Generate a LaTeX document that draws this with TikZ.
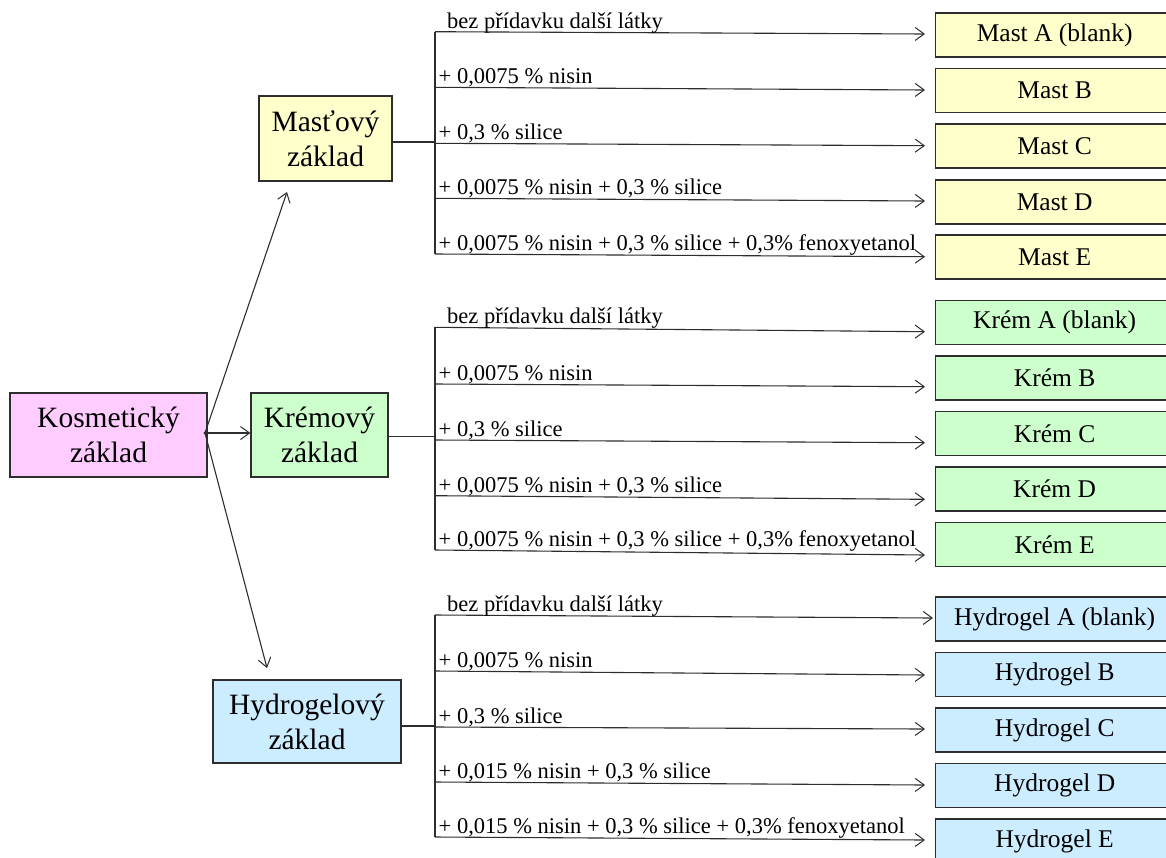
\documentclass[tikz,border=0pt]{standalone}
\usepackage{fontspec}
\setmainfont{Liberation Serif}
\usetikzlibrary{arrows.meta,calc}
\definecolor{yel}{RGB}{255,255,204}
\definecolor{grn}{RGB}{204,255,204}
\definecolor{blu}{RGB}{204,236,255}
\definecolor{pnk}{RGB}{255,204,255}
\definecolor{ln}{RGB}{45,45,45}
\begin{document}
\begin{tikzpicture}[x=1pt,y=-1pt,
 box/.style={draw=ln,line width=1.3pt,inner sep=0pt,minimum height=44pt,minimum width=238pt,anchor=west,font=\fontsize{25.5}{30}\selectfont},
 basebox/.style={draw=ln,line width=1.3pt,inner sep=0pt,align=center,font=\fontsize{29.5}{35}\selectfont},
 conn/.style={draw=ln,line width=1.1pt},
 arr/.style={conn,-{Straight Barb[length=9pt,width=13pt,line width=1pt]}},
 lab/.style={inner sep=0pt,anchor=base west,font=\fontsize{22.5}{26}\selectfont}]
\useasboundingbox (0,0) rectangle (1166,857);
\clip (0,0) rectangle (1166,857);

% main boxes
\node[basebox,fill=pnk,minimum width=197pt,minimum height=84pt] (kos) at (108.5,435) {Kosmetický\\základ};
\node[basebox,fill=yel,minimum width=133pt,minimum height=85pt] (mas) at (325.5,138.5) {Masťový\\základ};
\node[basebox,fill=grn,minimum width=137pt,minimum height=84pt] (kre) at (319.5,435) {Krémový\\základ};
\node[basebox,fill=blu,minimum width=188pt,minimum height=83pt] (hyd) at (307,721.5) {Hydrogelový\\základ};

% junction and arrows from Kosmetický
\coordinate (j) at (205,433);
\fill[ln] (j) circle (1.6pt);
\coordinate (tM) at (287,192);
\coordinate (tH) at (267,668);
\draw[arr] (j) -- (tM);
\draw[arr] (j) -- (kre.west|-j);
\draw[arr] (j) -- (tH);

% Mast group
\foreach \n/\txt/\c/\s/\e/\tx/\lx/\lab in {
 mA/{Mast A (blank)}/35/31.7/34/925/447/{bez přídavku další látky},
 mB/{Mast B}/90.5/87.3/90/925/438.5/{+ 0,0075 \% nisin},
 mC/{Mast C}/146/143.3/145.7/925/438.5/{+ 0,3 \% silice},
 mD/{Mast D}/202/198.3/201/925/438.5/{+ 0,0075 \% nisin + 0,3 \% silice},
 mE/{Mast E}/257/254/256.7/925/438.5/{+ 0,0075 \% nisin + 0,3 \% silice + 0,3\% fenoxyetanol}}{
 \node[box,fill=yel] (\n) at (935,\c) {\txt};
 \coordinate (\n s) at (435,\s);
 \coordinate (\n t) at (\tx,\e);
 \draw[arr] (\n s) -- (\n t);
 \node[lab] (\n l) at (\lx,\s-3.5) {\lab};
}
\coordinate (mJ) at (435,142);
\draw[conn] (mAs) -- (mEs);
\draw[conn] (mas.east|-mJ) -- (mJ);

% Krém group
\foreach \n/\txt/\c/\s/\e/\tx/\lx/\lab in {
 kA/{Krém A (blank)}/322.5/327.3/331.7/925/447/{bez přídavku další látky},
 kB/{Krém B}/378/384/386.7/925/438.5/{+ 0,0075 \% nisin},
 kC/{Krém C}/433.5/440/442.7/925/438.5/{+ 0,3 \% silice},
 kD/{Krém D}/489/495.7/499.3/925/438.5/{+ 0,0075 \% nisin + 0,3 \% silice},
 kE/{Krém E}/544.5/550/555/925/438.5/{+ 0,0075 \% nisin + 0,3 \% silice + 0,3\% fenoxyetanol}}{
 \node[box,fill=grn] (\n) at (935,\c) {\txt};
 \coordinate (\n s) at (435,\s);
 \coordinate (\n t) at (\tx,\e);
 \draw[arr] (\n s) -- (\n t);
 \node[lab] (\n l) at (\lx,\s-3.5) {\lab};
}
\coordinate (kJ) at (435,436.7);
\draw[conn] (kAs) -- (kEs);
\draw[conn] (kre.east|-kJ) -- (kJ);

% Hydrogel group
\foreach \n/\txt/\c/\s/\e/\tx/\lx/\lab in {
 hA/{Hydrogel A (blank)}/619/615/618/933/447/{bez přídavku další látky},
 hB/{Hydrogel B}/674.5/671/675/925/438.5/{+ 0,0075 \% nisin},
 hC/{Hydrogel C}/730/727/729/925/438.5/{+ 0,3 \% silice},
 hD/{Hydrogel D}/785.5/782/785/925/438.5/{+ 0,015 \% nisin + 0,3 \% silice},
 hE/{Hydrogel E}/841/837/840/925/438.5/{+ 0,015 \% nisin + 0,3 \% silice + 0,3\% fenoxyetanol}}{
 \node[box,fill=blu] (\n) at (935,\c) {\txt};
 \coordinate (\n s) at (435,\s);
 \coordinate (\n t) at (\tx,\e);
 \draw[arr] (\n s) -- (\n t);
 \node[lab] (\n l) at (\lx,\s-3.5) {\lab};
}
\coordinate (hJ) at (435,726);
\draw[conn] (hAs) -- (hEs);
\draw[conn] (hyd.east|-hJ) -- (hJ);
\end{tikzpicture}
\end{document}
